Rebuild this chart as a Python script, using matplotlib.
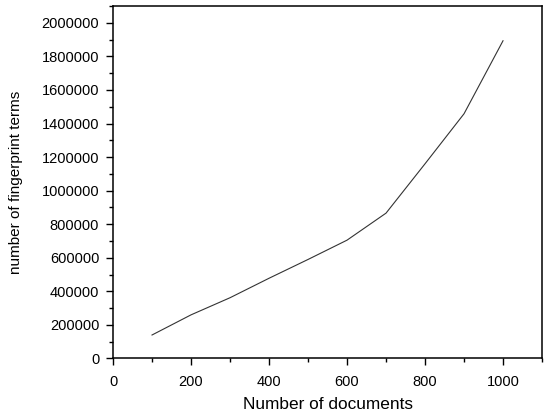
import matplotlib
matplotlib.use("Agg")
import matplotlib.pyplot as plt
from matplotlib.ticker import MultipleLocator

plt.rcParams['font.family'] = ['Liberation Sans', 'DejaVu Sans']

num_docs = [100, 200, 300, 400, 500, 600, 700, 800, 900, 1000]
fingerprint_terms = [140000, 260000, 362000, 478000, 590000, 705000, 866000, 1160000, 1458000, 1893000]

fig = plt.figure(figsize=(5.5, 4.17), dpi=100)
ax = fig.add_axes([0.2055, 0.1403, 0.78, 0.8453])
ax.plot(num_docs, fingerprint_terms, color='#333333', linewidth=0.8)

ax.set_xlim(0, 1100)
ax.set_ylim(0, 2100000)
ax.xaxis.set_major_locator(MultipleLocator(200))
ax.xaxis.set_minor_locator(MultipleLocator(100))
ax.yaxis.set_major_locator(MultipleLocator(200000))
ax.yaxis.set_minor_locator(MultipleLocator(100000))
ax.ticklabel_format(style='plain', useOffset=False)
ax.tick_params(which='both', direction='out', top=False, right=False, width=1.0, labelsize=10.5, colors='black')
ax.tick_params(which='major', length=5)
ax.tick_params(which='minor', length=3)
ax.tick_params(axis='x', which='major', pad=7)
ax.tick_params(axis='y', which='major', pad=5)
for s in ax.spines.values():
    s.set_linewidth(1.1)

ax.set_xlabel('Number of documents', fontsize=12.4, labelpad=6)
ax.set_ylabel('number of fingerprint terms', fontsize=11, labelpad=13)

fig.savefig('out.png', dpi=100)
